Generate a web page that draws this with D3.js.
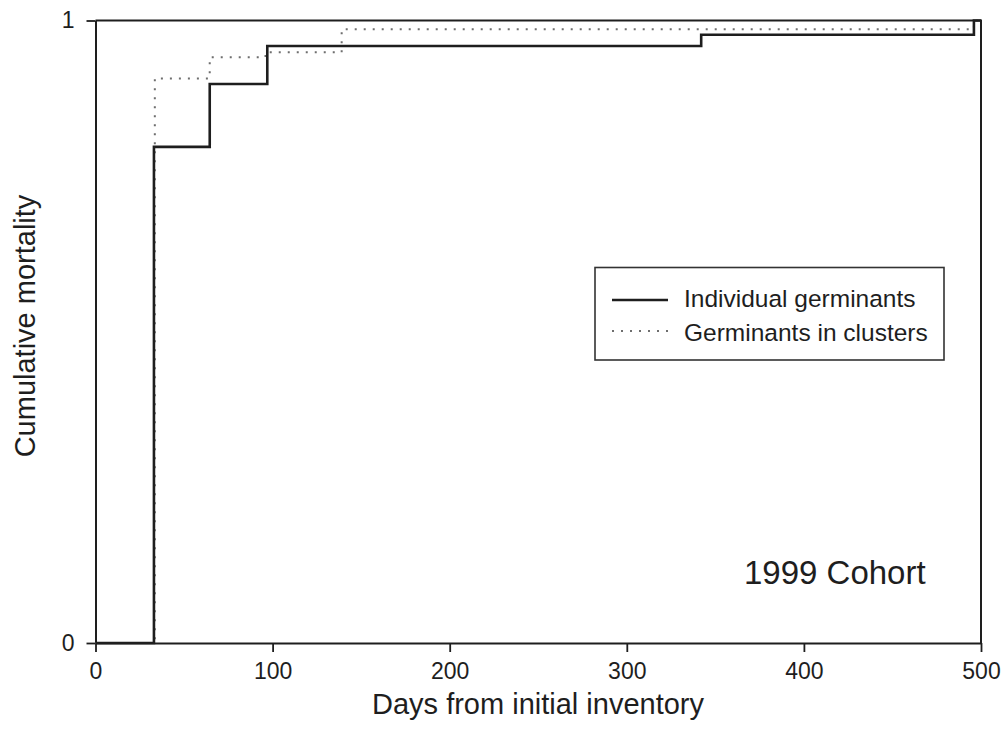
<!DOCTYPE html>
<html>
<head>
<meta charset="utf-8">
<script src="https://cdn.jsdelivr.net/npm/d3@7"></script>
<style>
  html, body { margin: 0; padding: 0; background: #fff; }
  svg { display: block; font-family: "Liberation Sans", Arial, sans-serif; }
</style>
</head>
<body>
<svg id="chart" width="1007" height="750"></svg>
<script>
// Cumulative mortality of the 1999 cohort (step curves)
const individualDays   = [0, 33, 64.5, 97, 342, 496, 500];
const individualValues = [0, 0.797, 0.898, 0.959, 0.977, 1, 1];

const clusterDays   = [0, 33.5, 64.5, 96, 139, 496, 500];
const clusterValues = [0, 0.907, 0.941, 0.949, 0.986, 1, 1];

const xTicks = [0, 100, 200, 300, 400, 500];
const yTicks = [0, 1];

const seriesNames = ["Individual germinants", "Germinants in clusters"];

const svg = d3.select("#chart");
const x = d3.scaleLinear().domain([0, 500]).range([95.5, 981]);
const y = d3.scaleLinear().domain([0, 1]).range([643, 20.5]);

const ink = "#1e1e1e";

// Axes
const xAxis = svg.append("g")
  .attr("transform", `translate(0,${y(0)})`)
  .call(d3.axisBottom(x).tickValues(xTicks).tickFormat(d3.format("d"))
    .tickSize(9).tickSizeOuter(0).tickPadding(11));
const yAxis = svg.append("g")
  .attr("transform", `translate(${x(0)},0)`)
  .call(d3.axisLeft(y).tickValues(yTicks).tickFormat(d3.format("d"))
    .tickSize(9).tickSizeOuter(0).tickPadding(12));

[xAxis, yAxis].forEach(g => {
  g.attr("font-size", null).attr("font-family", null);
  g.select(".domain").attr("stroke", ink).attr("stroke-width", 2);
  g.selectAll(".tick line").attr("stroke", ink).attr("stroke-width", 1.8);
  g.selectAll(".tick text")
    .attr("fill", ink)
    .style("font-size", "23px");
});

// Frame: top and right edges
svg.append("path")
  .attr("d", `M${x(0)},${y(1)}H${x(500)}V${y(0)}`)
  .attr("fill", "none")
  .attr("stroke", ink)
  .attr("stroke-width", 2);

const line = d3.line()
  .x(d => x(d[0]))
  .y(d => y(d[1]))
  .curve(d3.curveStepAfter);

const clusterPts = clusterDays.map((d, i) => [d, clusterValues[i]]);
const individualPts = individualDays.map((d, i) => [d, individualValues[i]]);

svg.append("path")
  .datum(clusterPts)
  .attr("d", line)
  .attr("fill", "none")
  .attr("stroke", "#6e6e6e")
  .attr("stroke-width", 2)
  .attr("stroke-dasharray", "2 7");

svg.append("path")
  .datum(individualPts)
  .attr("d", line)
  .attr("fill", "none")
  .attr("stroke", ink)
  .attr("stroke-width", 2.6);

// Legend
const legend = svg.append("g");
legend.append("rect")
  .attr("x", 595).attr("y", 267.5)
  .attr("width", 349).attr("height", 92.5)
  .attr("fill", "#fff")
  .attr("stroke", "#333")
  .attr("stroke-width", 1.6);
legend.append("line")
  .attr("x1", 612).attr("x2", 668).attr("y1", 300).attr("y2", 300)
  .attr("stroke", ink).attr("stroke-width", 2.4);
legend.append("line")
  .attr("x1", 612).attr("x2", 668).attr("y1", 331).attr("y2", 331)
  .attr("stroke", "#6e6e6e").attr("stroke-width", 2).attr("stroke-dasharray", "2 7");
legend.selectAll("text.lab")
  .data(seriesNames)
  .join("text")
  .attr("class", "lab")
  .attr("x", 684)
  .attr("y", (d, i) => 307 + i * 34)
  .attr("fill", ink)
  .style("font-size", "24.5px")
  .text(d => d);

// Cohort label
svg.append("text")
  .attr("x", 744).attr("y", 584)
  .attr("fill", ink)
  .style("font-size", "33px")
  .text("1999 Cohort");

// Axis titles
svg.append("text")
  .attr("x", 538).attr("y", 714)
  .attr("text-anchor", "middle")
  .attr("fill", ink)
  .style("font-size", "29px")
  .text("Days from initial inventory");

svg.append("text")
  .attr("transform", "translate(35,326) rotate(-90)")
  .attr("text-anchor", "middle")
  .attr("fill", ink)
  .style("font-size", "29px")
  .text("Cumulative mortality");
</script>
</body>
</html>
